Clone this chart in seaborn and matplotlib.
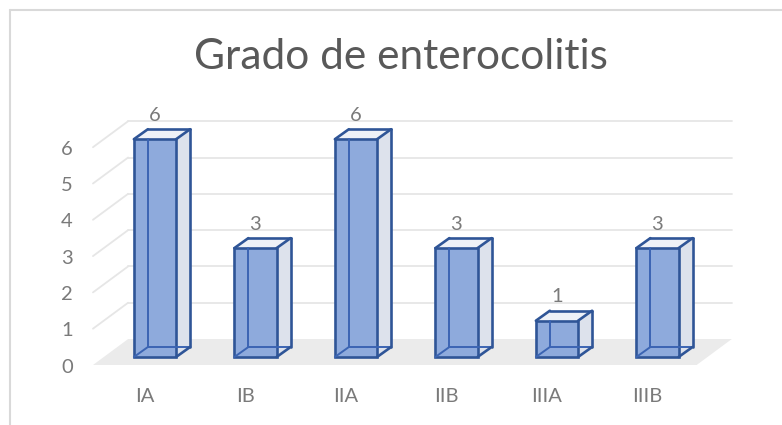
import numpy as np
import pandas as pd
import matplotlib
matplotlib.use("Agg")
import matplotlib.pyplot as plt
from matplotlib.patches import Polygon
from matplotlib.lines import Line2D
import seaborn as sns

# data
grados = ["IA", "IB", "IIA", "IIB", "IIIA", "IIIB"]
casos = [6, 3, 6, 3, 1, 3]
ticks_y = [0, 1, 2, 3, 4, 5, 6]
titulo = "Grado de enterocolitis"

df = pd.DataFrame({"grado": grados, "casos": casos})

sns.set_theme(style="white")
plt.rcParams["font.family"] = ["Lato", "DejaVu Sans"]

fig = plt.figure(figsize=(7.82, 4.25), dpi=100)
ax = fig.add_axes([0, 0, 1, 1])

# fake 3d: depth offset of a bar (in data units) and of the floor
ddx, ddy = 0.139, 0.275
fx0, fx1 = -0.617, 5.39      # floor front edge
fdx, fdy = 0.35, 0.716        # floor depth
fy = -0.22

# floor
floor = Polygon([(fx0, fy), (fx1, fy), (fx1 + fdx, fy + fdy), (fx0 + fdx, fy + fdy)],
                closed=True, fc="#ebebeb", ec="none", zorder=0)
ax.add_patch(floor)

# gridlines: side wall diagonals + back wall lines
for v in ticks_y[1:]:
    ax.plot([fx0, fx0 + fdx], [v + fy, v + fy + fdy], color="#e6e6e6", lw=1.3, zorder=0.5)
    ax.plot([fx0 + fdx, fx1 + fdx], [v + fy + fdy, v + fy + fdy], color="#e6e6e6", lw=1.3, zorder=0.5)

sns.barplot(data=df, x="grado", y="casos", width=0.42, color="#8eaadc",
            saturation=1, edgecolor="#2f5597", linewidth=1.9, ax=ax, zorder=3)

edge = "#2f5597"
for p in list(ax.patches):
    if not hasattr(p, "get_width") or isinstance(p, Polygon):
        continue
    x0, y0 = p.get_x(), p.get_y()
    w, h = p.get_width(), p.get_height()
    x1, y1 = x0 + w, y0 + h
    # right side and top faces
    side = Polygon([(x1, y0), (x1 + ddx, y0 + ddy), (x1 + ddx, y1 + ddy), (x1, y1)],
                   closed=True, fc="#dde2ec", ec="none", zorder=2)
    top = Polygon([(x0, y1), (x1, y1), (x1 + ddx, y1 + ddy), (x0 + ddx, y1 + ddy)],
                  closed=True, fc="#eef1f7", ec="none", zorder=2)
    ax.add_patch(side)
    ax.add_patch(top)
    # hidden edges seen through the glassy front
    inner = [
        ([x0, x0 + ddx], [y0, y0 + ddy]),
        ([x0 + ddx, x0 + ddx], [y0 + ddy, y1]),
        ([x0 + ddx, x1], [y0 + ddy, y0 + ddy]),
        ([x1, x1 + ddx], [y0 + ddy, y0 + ddy]),
    ]
    for xs, ys in inner:
        ax.plot(xs, ys, color="#3b64b3", lw=1.4, zorder=4, solid_capstyle="round")
    outer = [
        ([x0, x0 + ddx], [y1, y1 + ddy]),
        ([x0 + ddx, x1 + ddx], [y1 + ddy, y1 + ddy]),
        ([x1, x1 + ddx], [y1, y1 + ddy]),
        ([x1 + ddx, x1 + ddx], [y0 + ddy, y1 + ddy]),
        ([x1, x1 + ddx], [y0, y0 + ddy]),
    ]
    for xs, ys in outer:
        ax.plot(xs, ys, color=edge, lw=1.9, zorder=4, solid_capstyle="round")

# data labels
for i, v in enumerate(casos):
    ax.text(i, v + 0.66, str(v), ha="center", va="center", fontsize=14.5, color="#7a7a7a")

# category labels
for i, g in enumerate(grados):
    ax.text(i - 0.1, -1.1, g, ha="center", va="center", fontsize=14.5, color="#7a7a7a")

# y tick labels
for v in ticks_y:
    ax.text(-0.876, v - 0.28, str(v), ha="center", va="center", fontsize=14.5, color="#7a7a7a")

ax.set_xlim(-1.542, 6.239)
ax.set_ylim(-1.873, 9.835)
ax.axis("off")

fig.text(401 / 782, 1 - 57 / 425, titulo, ha="center", va="center", fontsize=30.5, color="#595959")

# chart area border (only top and left visible in the crop)
fig.add_artist(Line2D([9.5 / 782, 9.5 / 782], [0, 1 - 9.5 / 425], transform=fig.transFigure,
                      color="#d9d9d9", lw=1.5))
fig.add_artist(Line2D([9.5 / 782, 1], [1 - 9.5 / 425, 1 - 9.5 / 425], transform=fig.transFigure,
                      color="#d9d9d9", lw=1.5))

fig.savefig("out.png", dpi=100)
